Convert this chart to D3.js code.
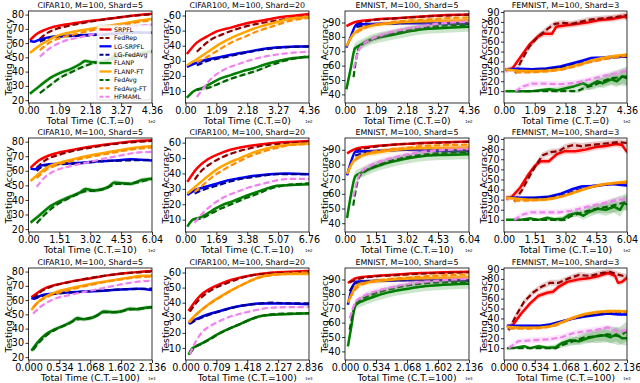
<!DOCTYPE html>
<html><head><meta charset="utf-8">
<script src="https://cdn.jsdelivr.net/npm/d3@7"></script>
<style>
body{margin:0;background:#fff}
svg{display:block;font-family:"DejaVu Sans",sans-serif}
</style></head><body>
<svg id="chart" width="640" height="383"></svg>
<script>
// legend order = plot order
var methods = ["SRPFL","FedRep","LG-SRPFL","LG-FedAvg","FLANP","FLANP-FT","FedAvg","FedAvg-FT","HFMAML"];
var colors = ["#ff0000","#8b0000","#0000ff","#00008b","#008000","#ffa500","#006400","#ff8c00","#ee82ee"];
var dashed = [false,true,false,true,false,false,true,true,true];

var titles = ["CIFAR10, M=100, Shard=5","CIFAR100, M=100, Shard=20","EMNIST, M=100, Shard=5","FEMNIST, M=100, Shard=3"];
var yTicks = [[20,30,40,50,60,70,80],[10,20,30,40,50,60],[40,50,60,70,80,90],[10,20,30,40,50,60,70,80,90]];
var yLims = [[18,82.5],[2,63],[34,98],[-2,91]];
var ctValues = ["0","10","100"];
var xExp = ["1e2","1e2","1e3"];

var ticksR1 = ["0.00","1.09","2.18","3.27","4.36"];
var ticksR2 = ["0.00","1.51","3.02","4.53","6.04"];
var ticksR2b = ["0.00","1.69","3.38","5.07","6.76"];
var ticksR3 = ["0.000","0.534","1.068","1.602","2.136"];
var ticksR3b = ["0.000","0.709","1.418","2.127","2.836"];

// ---- row 1 : C.T.=0 ----
var c10_r1 = [
  [[0.05,62],[0.3,66.5],[0.6,69.5],[0.9,71.5],[1.3,73],[1.8,74.5],[2.3,75.8],[2.8,77],[3.3,78.3],[3.8,79.5],[4.36,80.5]],
  [[0.4,63],[0.7,67.5],[1.0,70],[1.4,72],[1.9,74],[2.5,76],[3.1,77.8],[3.7,79.2],[4.36,80.2]],
  [[0.05,61.5],[0.2,61],[0.4,62.5],[0.7,64],[1.0,64.8],[1.6,65.3],[2.2,65.8],[2.8,66.3],[3.3,67],[3.8,67.6],[4.36,67.2]],
  [[0.4,61],[0.7,63.5],[1.0,64.5],[1.6,65],[2.2,65.5],[2.8,66],[3.4,66.8],[4.36,67.3]],
  [[0.05,24.5],[0.4,30],[0.8,36],[1.1,39],[1.5,42],[1.8,45],[2.0,47.5],[2.3,46.5],[2.6,47],[2.9,49],[3.1,52],[3.4,51.5],[3.7,51.2],[4.0,53],[4.36,54]],
  [[0.05,53],[0.3,57],[0.7,62],[1.0,65],[1.6,68],[2.2,70],[2.8,72],[3.4,74],[4.0,76],[4.36,77]],
  [[0.4,25],[0.8,31],[1.1,35.5],[1.5,39.5],[2.0,44],[2.3,46],[2.6,46.5],[2.9,48],[3.2,50],[3.5,51.5],[3.8,51.5],[4.1,53],[4.36,54.5]],
  [[0.4,55],[0.8,61],[1.2,64],[1.8,67],[2.5,70],[3.1,72],[3.8,74.5],[4.36,76]],
  [[0.4,50.5],[0.8,57],[1.2,61],[1.8,64],[2.5,67],[3.2,69.5],[3.9,72],[4.36,73]]
];
var c100_r1 = [
  [[0.05,34.5],[0.4,42],[0.75,46],[1.1,49.5],[1.6,52],[2.2,55],[2.8,57],[3.4,59],[3.9,60],[4.36,61]],
  [[0.4,36],[0.9,44],[1.3,47.5],[1.8,51],[2.4,54],[3.0,56],[3.6,57.8],[4.36,59.5]],
  [[0.05,26],[0.3,28],[0.7,30.5],[1.1,32],[1.6,34],[2.2,36],[2.8,38],[3.4,39],[3.9,39.5],[4.36,39.5]],
  [[0.4,27],[0.8,30],[1.3,32],[1.9,34.5],[2.6,37],[3.2,38.5],[3.8,39.2],[4.36,39.5]],
  [[0.05,5.5],[0.3,10],[0.6,12],[0.9,15],[1.2,18],[1.6,20.5],[2.0,23],[2.4,25],[2.8,27.5],[3.3,30],[3.7,31.5],[4.36,32.5]],
  [[0.05,27],[0.4,31],[0.8,36],[1.2,41],[1.6,45],[2.1,49],[2.6,52.5],[3.1,55],[3.6,57.5],[4.36,59]],
  [[0.4,11],[0.8,12],[1.2,15],[1.6,18],[2.1,21],[2.6,24],[3.0,27],[3.5,30],[4.0,32],[4.36,33]],
  [[0.4,29],[0.8,33],[1.2,37.5],[1.6,42],[2.1,46],[2.6,50],[3.1,53],[3.6,56],[4.36,58.5]],
  [[0.4,6],[0.6,11],[0.85,17],[1.3,23.5],[1.9,28],[2.4,31],[3.0,33.5],[3.6,35],[4.36,36]]
];
var em_r1 = [
  [[0.05,87.5],[0.4,90.5],[1.0,92],[1.8,93],[2.6,94],[3.4,95],[4.36,95.5]],
  [[0.4,89],[0.8,91],[1.5,92.5],[2.3,93.5],[3.2,94.5],[4.36,95.5]],
  [[0.05,72.5],[0.2,80],[0.4,88.5],[1.0,89],[2.0,89.5],[3.0,89.5],[4.36,89]],
  [[0.4,87],[1.0,88.5],[2.0,89.5],[3.0,90],[4.36,89.5]],
  [[0.05,43.5],[0.2,58],[0.35,72],[0.6,75],[0.9,78],[1.3,80],[1.8,82],[2.3,84],[2.8,85.5],[3.3,86],[3.8,86.5],[4.36,87]],
  [[0.05,73.5],[0.3,82],[0.6,86],[1.0,88],[1.6,89.5],[2.2,90.5],[3.0,91],[4.36,91.5]],
  [[0.3,52],[0.5,73],[0.8,77],[1.2,80],[1.8,83],[2.4,85.5],[3.0,87],[3.6,88],[4.36,88.5]],
  [[0.4,83],[0.8,87],[1.4,89.5],[2.0,91],[2.8,92],[3.6,93],[4.36,93.5]],
  [[0.3,58],[0.55,73],[0.9,78],[1.4,82],[2.0,85],[2.6,87],[3.2,89],[4.36,90.5]]
];
var fem_r1 = [
  [[0.05,31],[0.3,33],[0.6,45],[0.9,57],[1.2,65],[1.4,68],[1.7,68],[1.85,75],[2.2,76.5],[2.6,78],[3.0,79.5],[3.4,82],[3.8,83],[4.1,84.5],[4.25,85.5],[4.36,84]],
  [[0.4,28],[0.6,40],[0.9,55],[1.2,65],[1.5,72],[1.8,78],[2.1,79],[2.4,78],[2.7,80],[3.0,82],[3.3,83],[3.7,84],[4.0,85],[4.36,87]],
  [[0.05,32],[0.5,32.5],[1.0,32],[1.5,33],[2.0,35],[2.4,38],[2.8,41],[3.1,43.5],[3.5,44],[4.0,45],[4.36,45]],
  [[0.4,30],[1.0,31],[1.5,32],[2.0,34],[2.5,37],[3.0,40],[3.5,43],[3.9,44],[4.36,45]],
  [[0.05,10],[0.5,10],[1.0,10],[1.3,11],[1.6,12],[1.9,11],[2.2,13],[2.5,15],[2.8,18],[3.0,15],[3.3,20],[3.5,18],[3.8,22],[4.0,20],[4.2,25],[4.36,23]],
  [[0.05,32],[0.5,30.5],[1.0,30],[1.5,30.5],[2.0,32],[2.4,35],[2.8,38],[3.1,41],[3.5,43.5],[3.9,45.5],[4.36,47]],
  [[0.4,10],[1.0,10],[1.6,10],[2.2,10],[2.6,10],[2.9,14],[3.2,16],[3.5,20],[3.8,23],[4.1,24],[4.36,25]],
  [[0.4,29],[1.0,29],[1.6,30],[2.1,32],[2.6,35.5],[3.0,39],[3.5,42],[3.9,44],[4.36,46]],
  [[0.4,10],[0.7,15],[1.0,17.5],[1.5,17.5],[2.0,17],[2.4,18],[2.8,20],[3.2,23],[3.6,26],[4.0,28],[4.36,31]]
];

// ---- row 2 : C.T.=10 ----
var c10_r2 = [
  [[0.1,62],[0.5,67],[1.0,70.5],[1.5,72.5],[2.2,74.5],[3.0,76.5],[3.8,78],[4.6,79.5],[5.3,80.5],[6.04,81]],
  [[0.4,62],[0.8,67],[1.5,71],[2.3,74],[3.1,76],[4.0,78],[5.0,79.5],[6.04,80.5]],
  [[0.1,61.5],[0.3,61],[0.6,63.5],[1.0,64.5],[1.8,65],[2.6,65.5],[3.4,66.5],[4.2,67],[5.0,68],[5.5,67.5],[6.04,67]],
  [[0.4,60],[0.8,63.5],[1.5,64.5],[2.5,65],[3.5,66.5],[4.5,67],[6.04,67.5]],
  [[0.1,24.5],[0.5,29],[1.0,35],[1.5,39],[2.0,42],[2.5,45],[2.8,47.5],[3.2,46.5],[3.5,47],[3.9,49],[4.2,52],[4.6,51.5],[5.0,51],[5.5,53.5],[6.04,54.5]],
  [[0.1,53],[0.5,58],[1.0,63],[1.5,65.5],[2.2,68],[3.0,70.5],[3.8,72.5],[4.6,74.5],[5.3,76],[6.04,77]],
  [[0.4,24],[0.8,30],[1.3,36],[1.8,40],[2.4,44],[2.8,46],[3.3,46.5],[3.8,48],[4.3,51],[4.8,51],[5.3,52],[6.04,54.5]],
  [[0.4,55],[0.8,60],[1.4,64],[2.2,67],[3.0,69.5],[4.0,72],[5.0,74.5],[6.04,76]],
  [[0.4,49],[0.8,55.5],[1.3,60],[2.0,63],[2.8,65.5],[3.6,68],[4.5,70.5],[5.3,72.5],[6.04,73]]
];
var c100_r2 = [
  [[0.1,34.5],[0.6,43],[1.2,49],[1.8,52.5],[2.5,55.5],[3.3,57.5],[4.2,59],[5.0,60],[6.0,60.5],[6.76,61]],
  [[0.5,36],[0.9,42],[1.4,46.5],[2.0,50.5],[2.8,54],[3.6,56.5],[4.5,58.5],[5.5,59.5],[6.76,60.5]],
  [[0.1,26],[0.5,29],[1.0,31],[1.6,33],[2.3,35.5],[3.0,37],[3.8,38.5],[4.6,39.5],[5.5,40],[6.76,39.5]],
  [[0.5,27],[1.0,29.5],[1.7,32],[2.5,35],[3.3,37],[4.2,38.5],[5.0,39.5],[6.76,39.5]],
  [[0.1,5.5],[0.4,10],[0.8,11.5],[1.2,14],[1.6,17],[2.0,19.5],[2.6,22],[3.2,25],[3.8,27.5],[4.4,30],[5.0,32],[5.8,32.5],[6.76,33]],
  [[0.1,27],[0.6,32],[1.2,38],[1.7,42.5],[2.3,46.5],[3.0,50],[3.7,53.5],[4.4,56],[5.2,58],[6.0,59],[6.76,59.5]],
  [[0.5,10],[0.9,11],[1.4,14],[2.0,17.5],[2.6,20.5],[3.3,24],[4.0,27],[4.6,30],[5.3,32],[6.76,33.5]],
  [[0.5,28],[1.0,33],[1.5,38],[2.1,42.5],[2.8,47],[3.5,51],[4.2,54],[5.0,56.5],[5.8,58.5],[6.76,59]],
  [[0.5,8],[1.0,15],[1.5,20],[2.1,24.5],[2.8,28],[3.5,31],[4.3,33.5],[5.0,35.5],[5.8,36.5],[6.76,36.5]]
];
var em_r2 = [
  [[0.1,87.5],[0.6,91],[1.5,92.5],[2.5,93.5],[3.5,94.5],[4.5,95],[6.04,95.5]],
  [[0.5,89.5],[1.0,91],[2.0,93],[3.0,94],[4.0,94.5],[6.04,95.5]],
  [[0.1,72.5],[0.3,82],[0.5,88.5],[1.0,89],[2.0,89.5],[3.0,90],[4.0,89.5],[6.04,89]],
  [[0.5,86],[1.0,88],[2.0,89.5],[3.0,90],[4.0,90],[6.04,89.5]],
  [[0.1,43.5],[0.3,60],[0.5,72],[0.8,74.5],[1.2,77],[1.8,80],[2.5,82.5],[3.2,84.5],[4.0,86],[4.8,86.5],[6.04,87]],
  [[0.1,73.5],[0.4,82],[0.8,86],[1.5,88],[2.5,90],[3.5,91],[6.04,91.5]],
  [[0.4,52],[0.7,72],[1.0,75.5],[1.6,79.5],[2.4,83],[3.2,85.5],[4.0,87],[5.0,88],[6.04,88.5]],
  [[0.5,83],[1.0,87],[1.8,89.5],[2.8,91],[3.8,92.5],[6.04,93.5]],
  [[0.4,58],[0.7,73],[1.2,79],[1.8,82.5],[2.6,85.5],[3.5,88],[4.5,89.5],[6.04,90.5]]
];
var fem_r2 = [
  [[0.1,31],[0.4,33],[0.8,42],[1.2,55],[1.5,63],[1.8,68],[2.2,68],[2.6,75],[3.0,78],[3.5,78],[4.0,79.5],[4.5,82],[5.0,83],[5.5,85],[5.8,84],[6.04,77]],
  [[0.5,28],[0.9,40],[1.3,55],[1.6,65],[1.9,74],[2.3,77],[2.7,78],[3.0,82],[3.4,84],[3.8,83],[4.2,84],[4.7,85],[5.2,86],[5.6,87],[6.04,86]],
  [[0.1,32],[0.8,32],[1.5,32],[2.2,33],[2.8,36],[3.3,40],[3.8,43],[4.3,43.5],[4.8,44.5],[5.3,45.5],[6.04,44]],
  [[0.5,30.5],[1.2,31],[2.0,32],[2.8,34],[3.4,38],[3.9,41],[4.4,43],[5.0,45],[5.5,46],[6.04,47]],
  [[0.1,10],[0.8,10],[1.3,11.5],[1.7,10],[2.1,12],[2.5,10.5],[2.9,11],[3.2,15],[3.6,17],[3.9,14],[4.2,18],[4.6,21],[5.0,20],[5.4,23],[5.7,20],[5.9,27],[6.04,25]],
  [[0.1,32],[0.6,31],[1.2,30],[1.8,30],[2.4,31],[3.0,34],[3.6,38],[4.2,42],[4.8,45],[5.4,46.5],[6.04,48]],
  [[0.5,10],[1.5,10],[2.5,10],[3.0,10],[3.3,14],[3.8,17],[4.3,20],[4.8,22],[5.3,24],[6.04,28]],
  [[0.5,29],[1.2,29],[2.0,30],[2.8,33],[3.4,37],[4.0,41],[4.6,44],[5.2,46],[6.04,47]],
  [[0.5,10],[0.9,15],[1.3,17.5],[2.0,17.5],[2.7,17.5],[3.3,19],[3.9,22],[4.5,25],[5.1,27.5],[5.6,30],[6.04,30]]
];

// ---- row 3 : C.T.=100 ----
var c10_r3 = [
  [[0.05,62],[0.15,65],[0.3,68.5],[0.5,71],[0.8,73.5],[1.1,75.5],[1.4,77.5],[1.7,79],[2.0,80],[2.136,80.5]],
  [[0.08,61],[0.2,65.5],[0.4,69.5],[0.7,72.5],[1.0,75],[1.3,77],[1.6,78.5],[1.9,79.5],[2.136,80]],
  [[0.05,61.5],[0.1,61],[0.2,63],[0.4,64.5],[0.7,65.5],[1.0,66],[1.3,66.5],[1.6,67.5],[1.9,68],[2.136,67]],
  [[0.08,61],[0.2,62.5],[0.4,64],[0.8,65.5],[1.2,66.5],[1.6,67.5],[2.136,68]],
  [[0.05,24.5],[0.15,30],[0.3,36],[0.45,39.5],[0.6,42],[0.75,45],[0.85,47.5],[0.95,46.5],[1.05,47],[1.2,49.5],[1.3,52],[1.45,51.5],[1.6,52],[1.75,54],[1.9,53.5],[2.0,54.5],[2.136,55]],
  [[0.05,53],[0.15,58],[0.3,62.5],[0.5,66],[0.8,69],[1.1,71.5],[1.4,73.5],[1.7,75.5],[2.0,77],[2.136,77]],
  [[0.08,25],[0.2,31],[0.35,36.5],[0.5,40],[0.7,43.5],[0.85,46.5],[1.0,47],[1.15,48.5],[1.3,51.5],[1.5,51.5],[1.7,53],[1.9,54],[2.136,55]],
  [[0.08,55],[0.2,59.5],[0.4,63.5],[0.7,67],[1.0,70],[1.3,72.5],[1.6,74.5],[1.9,76],[2.136,76.5]],
  [[0.08,50.5],[0.2,55],[0.4,60],[0.7,63.5],[1.0,66],[1.3,68.5],[1.6,71],[1.9,73],[2.136,73.5]]
];
var c100_r3 = [
  [[0.07,34.5],[0.2,40],[0.35,45],[0.55,49],[0.8,52.5],[1.1,55.5],[1.4,57.5],[1.7,59],[2.0,60],[2.4,60.5],[2.836,61]],
  [[0.1,34],[0.25,40],[0.45,45.5],[0.7,50],[1.0,53.5],[1.3,56.5],[1.6,58.5],[2.0,59.5],[2.4,60],[2.836,60.5]],
  [[0.07,26],[0.2,28.5],[0.4,31],[0.6,33],[0.85,35],[1.1,37],[1.4,38.5],[1.7,39.5],[2.0,39.5],[2.4,39.5],[2.836,39]],
  [[0.1,26],[0.25,28.5],[0.45,31],[0.7,33.5],[1.0,36],[1.3,38],[1.6,39],[2.0,40],[2.4,39.5],[2.836,39.5]],
  [[0.07,5.5],[0.15,9.5],[0.3,12],[0.5,15],[0.7,18.5],[0.9,21.5],[1.1,24],[1.3,26.5],[1.5,29],[1.7,31],[2.0,32],[2.4,32.5],[2.836,33]],
  [[0.07,27],[0.2,31],[0.4,36],[0.6,40.5],[0.8,44],[1.0,47.5],[1.2,50.5],[1.45,54],[1.7,57],[2.0,58.5],[2.4,59],[2.836,59]],
  [[0.1,6],[0.2,10],[0.35,12.5],[0.55,15.5],[0.75,19],[0.95,22],[1.15,24.5],[1.35,27],[1.55,29.5],[1.8,31.5],[2.1,32.5],[2.836,33]],
  [[0.1,27],[0.25,32],[0.45,37],[0.65,41],[0.85,44.5],[1.05,48],[1.25,51],[1.5,54.5],[1.75,57],[2.05,58.5],[2.4,59.5],[2.836,60]],
  [[0.1,6],[0.25,15],[0.4,21],[0.6,25],[0.8,28],[1.0,30.5],[1.3,33],[1.6,35],[1.9,36.5],[2.3,37],[2.836,37]]
];
var em_r3 = [
  [[0.05,87.5],[0.2,91],[0.5,92.5],[0.9,93.5],[1.3,94.5],[1.7,95],[2.136,95.5]],
  [[0.08,88],[0.2,90],[0.5,92],[0.9,93],[1.3,94],[1.7,94.5],[2.136,95]],
  [[0.05,72.5],[0.12,84],[0.2,88.5],[0.5,89],[1.0,89.5],[1.5,90],[2.136,89.5]],
  [[0.08,82],[0.2,87.5],[0.5,89],[1.0,89.5],[1.5,89.5],[2.136,89]],
  [[0.05,43.5],[0.1,55],[0.18,72],[0.3,75],[0.5,78],[0.7,80.5],[1.0,83],[1.3,85],[1.6,86],[2.136,87]],
  [[0.05,74],[0.12,80],[0.2,86],[0.4,88],[0.7,89.5],[1.0,90.5],[1.5,91],[2.136,91.5]],
  [[0.08,55],[0.18,72.5],[0.3,76.5],[0.5,80],[0.8,83.5],[1.1,86],[1.4,87.5],[1.7,88],[2.136,88.5]],
  [[0.08,77],[0.2,84],[0.4,88],[0.7,90],[1.0,91],[1.5,92.5],[2.136,93.5]],
  [[0.08,63],[0.18,74],[0.3,78],[0.5,81.5],[0.8,84.5],[1.1,87],[1.4,88.5],[1.7,89.5],[2.136,90.5]]
];
var fem_r3 = [
  [[0.05,31],[0.15,33],[0.3,45],[0.45,55],[0.6,63],[0.75,66],[0.85,67],[0.95,72],[1.1,77],[1.3,79.5],[1.5,81],[1.65,83],[1.8,86],[1.93,83],[1.98,76],[2.05,77],[2.136,81]],
  [[0.08,28],[0.2,42],[0.35,57],[0.5,66],[0.65,72],[0.8,76],[0.95,76],[1.1,80],[1.3,84],[1.5,83],[1.7,86],[1.85,87],[2.0,84],[2.136,82]],
  [[0.05,32.5],[0.3,32.5],[0.6,32.5],[0.8,34],[1.0,37],[1.2,40],[1.4,42],[1.6,43.5],[1.8,45],[2.0,44],[2.136,44]],
  [[0.08,30],[0.4,31],[0.7,32],[0.9,35],[1.1,38.5],[1.3,42],[1.5,43.5],[1.7,45],[1.9,46],[2.136,46.5]],
  [[0.05,10],[0.2,10.5],[0.35,12],[0.45,10],[0.6,12],[0.75,10.5],[0.9,11],[1.0,15],[1.15,18],[1.3,17],[1.45,20],[1.6,22],[1.75,23],[1.85,21],[1.95,24],[2.05,20],[2.136,20]],
  [[0.05,31.5],[0.3,30.5],[0.6,30.5],[0.8,32],[1.0,36],[1.2,41],[1.4,44.5],[1.6,46.5],[1.8,47.5],[2.0,47.5],[2.136,47]],
  [[0.08,10],[0.3,10],[0.6,10],[0.9,10],[1.05,14],[1.2,17],[1.4,21],[1.6,22],[1.8,24],[2.0,22],[2.136,27]],
  [[0.08,30],[0.4,29.5],[0.7,30.5],[0.9,33],[1.1,38],[1.3,42.5],[1.5,45],[1.7,46.5],[1.9,47],[2.136,47]],
  [[0.08,10],[0.25,17],[0.5,18],[0.8,19],[1.0,21],[1.2,25],[1.4,27],[1.6,28.5],[1.8,31],[1.95,27],[2.136,28]]
];

// shaded std bands (half-width), per series; an array means one value per point
var sd_c10 = [0.5,0.5,0.5,0.5,1.5,0.5,1,0.5,0.5];
var sd_c100 = [0.5,0.5,0.5,0.5,0.8,0.5,0.8,0.5,0.5];
var sd_em = [0.5,0.5,0.8,0.8,3.5,2,2,1,2];
var sd_fem1 = [3,3,1.5,1.5,[1,1,1,2,2,3,3,3,4,4,5,5,6,6,7,7],1.5,[1,1,1,1,2,3,4,5,6,8,10],1.5,3];
var sd_fem2 = [3,3,1.5,1.5,[1,1,1,1,2,2,3,3,4,4,5,5,6,6,7,7,7],1.5,[1,1,1,1,1,3,4,5,7,8,10],1.5,3];
var sd_fem3 = [3,3,1.5,1.5,[1,1,1,1,2,2,3,3,4,4,5,5,6,6,7,7,7],1.5,[1,1,1,1,3,4,5,7,8,9,10],1.5,3];

var panelData = [[c10_r1,c100_r1,em_r1,fem_r1],[c10_r2,c100_r2,em_r2,fem_r2],[c10_r3,c100_r3,em_r3,fem_r3]];
var panelSd = [[sd_c10,sd_c100,sd_em,sd_fem1],[sd_c10,sd_c100,sd_em,sd_fem2],[sd_c10,sd_c100,sd_em,sd_fem3]];
var panelTicks = [[ticksR1,ticksR1,ticksR1,ticksR1],[ticksR2,ticksR2b,ticksR2,ticksR2],[ticksR3,ticksR3b,ticksR3,ticksR3]];

var svg = d3.select("#chart");
var colL = [28.5,185.5,345,504], colR = [152,309,469,627];
var rowT = [11,138,268], rowB = [103,232,360];

panelData.forEach(function(row, r) {
  row.forEach(function(series, c) {
    var L = colL[c], R = colR[c], T = rowT[r], B = rowB[r];
    var labels = panelTicks[r][c];
    var tickVals = labels.map(Number);
    var x = d3.scaleLinear().domain([0, tickVals[tickVals.length-1]]).range([L, R]);
    var y = d3.scaleLinear().domain(yLims[c]).range([B, T]);
    var g = svg.append("g");
    var cid = "clip" + r + "_" + c;
    g.append("clipPath").attr("id", cid).append("rect")
      .attr("x", L).attr("y", T).attr("width", R-L).attr("height", B-T);
    var plot = g.append("g").attr("clip-path", "url(#" + cid + ")");
    var curve = c == 3 ? d3.curveLinear : d3.curveMonotoneX;

    series.forEach(function(pts, i) {
      var s = panelSd[r][c][i];
      var sdAt = function(j) { return Array.isArray(s) ? s[j] : s; };
      var area = d3.area().curve(curve)
        .x(function(d) { return x(d[0]); })
        .y0(function(d, j) { return y(d[1] - sdAt(j)); })
        .y1(function(d, j) { return y(d[1] + sdAt(j)); });
      plot.append("path").attr("d", area(pts))
        .attr("fill", colors[i]).attr("fill-opacity", 0.2);
      var line = d3.line().curve(curve)
        .x(function(d) { return x(d[0]); })
        .y(function(d) { return y(d[1]); });
      plot.append("path").attr("d", line(pts))
        .attr("fill", "none").attr("stroke", colors[i])
        .attr("stroke-width", dashed[i] ? 2.2 : 2.5)
        .attr("stroke-dasharray", dashed[i] ? "6,3" : null)
        .attr("stroke-linejoin", "round");
    });

    // axes
    var xa = g.append("g").attr("transform", "translate(0," + B + ")")
      .call(d3.axisBottom(x).tickValues(tickVals).tickSize(3).tickSizeOuter(0).tickPadding(1)
        .tickFormat(function(d, k) { return labels[k]; }));
    var ya = g.append("g").attr("transform", "translate(" + L + ",0)")
      .call(d3.axisLeft(y).tickValues(yTicks[c]).tickSize(3).tickSizeOuter(0).tickPadding(1.5));
    [xa, ya].forEach(function(a) {
      a.select(".domain").remove();
      a.selectAll("text").attr("font-size", 9.6).attr("font-family", "DejaVu Sans").attr("fill", "#000");
      a.selectAll("line").attr("stroke", "#000").attr("stroke-width", 0.8);
    });
    g.append("rect").attr("x", L).attr("y", T).attr("width", R-L).attr("height", B-T)
      .attr("fill", "none").attr("stroke", "#000").attr("stroke-width", 0.8);

    g.append("text").attr("x", (L+R)/2).attr("y", T - 3)
      .attr("text-anchor", "middle").attr("font-size", 7.9).text(titles[c]);
    g.append("text").attr("x", (L+R)/2).attr("y", B + 20.5)
      .attr("text-anchor", "middle").attr("font-size", 9.2)
      .text("Total Time (C.T.=" + ctValues[r] + ")");
    g.append("text").attr("transform", "translate(" + (L-17) + "," + (T+B)/2 + ") rotate(-90)")
      .attr("text-anchor", "middle").attr("font-size", 9.2).text("Testing Accuracy");
    g.append("text").attr("x", R - 4).attr("y", B + 20)
      .attr("font-size", 4).text(xExp[r]);

    // legend in first panel
    if (r == 0 && c == 0) {
      var lg = g.append("g");
      var lx = R - 55, ly = T + 14;
      lg.append("rect").attr("x", lx).attr("y", ly).attr("width", 54).attr("height", 75)
        .attr("rx", 2).attr("fill", "#fff").attr("fill-opacity", 0.85)
        .attr("stroke", "#ccc").attr("stroke-width", 0.6);
      methods.forEach(function(m, i) {
        var yy = ly + 4.5 + i * 8.4;
        lg.append("line").attr("x1", lx + 2.5).attr("x2", lx + 14.5).attr("y1", yy).attr("y2", yy)
          .attr("stroke", colors[i]).attr("stroke-width", dashed[i] ? 2 : 2.3)
          .attr("stroke-dasharray", dashed[i] ? "4,2" : null);
        lg.append("text").attr("x", lx + 17).attr("y", yy).attr("dy", "0.35em")
          .attr("font-size", 6.3).text(m);
      });
    }
  });
});
</script>
</body></html>
